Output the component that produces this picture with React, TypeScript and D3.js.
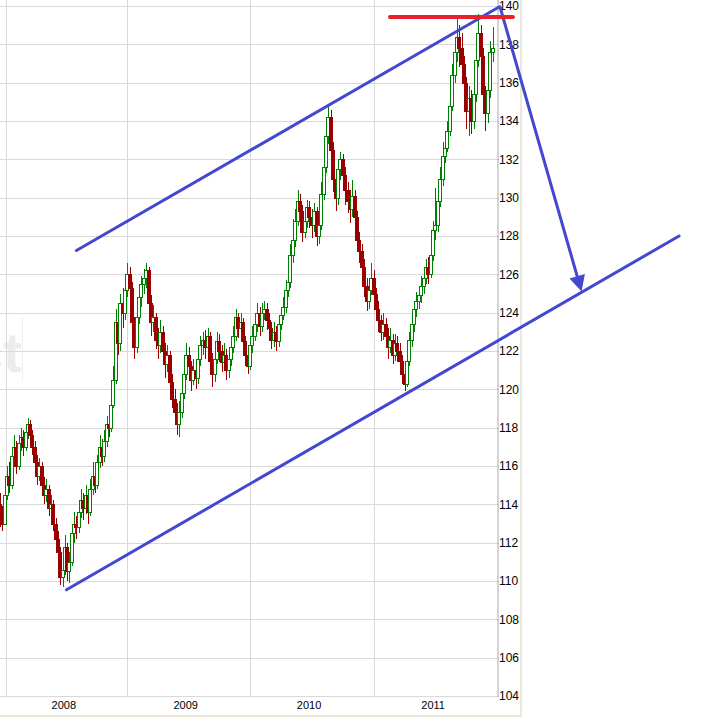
import React from 'react';
import * as d3 from 'd3';

// ---------- data ----------
const firstWeek = new Date(2007, 11, 14);
const firstOpen = 114;
const closes = [
  113.5,113,114.5,115.5,115,116.5,117,116,117.2,117.5,
  117,117.8,118.2,117.6,117,116.2,115.5,116,115,114.5,
  114.8,113.8,114,113,112.2,111.5,110.2,110.6,111.8,110.5,
  111,112.5,113,112.8,113.6,114.2,113.8,114.5,113.6,114.8,
  115.5,115,116.2,117,116.5,117.3,118.2,118,119.2,120.5,
  123.5,122.4,124.5,124,125.2,126,125.3,123.5,122.2,123.8,
  124.8,125.5,125.8,126.2,124.5,123.5,123.8,122.6,122.3,123,
  122,121.3,121.8,120.4,119.5,118.8,118.2,118.8,119.8,120.8,
  121.8,121.2,120.5,121,120.6,121.6,122.3,122.6,122.2,122.8,
  121.5,120.8,121.6,122.5,122,121.4,121.8,121,121.6,122.2,
  122.8,123.8,123.2,123.5,122.5,121.8,121.2,122.3,122.8,123.4,
  124,123.3,124,124.2,123.6,123.2,122.6,123,122.5,123.4,
  123.9,124.3,125.2,125.6,127,127.8,128.8,129.8,129.3,128.2,
  128.8,129.5,129,128.6,129.3,128,128.6,130.2,131.6,133.2,
  134.2,132.5,131,130,131.5,132,131.2,130.4,129.8,129.4,
  130.1,129,127.8,127.2,126.4,125.4,124.6,125.2,125.8,125,
  124.2,123.6,123,123.4,122.8,122.2,122.6,121.8,122.4,122,
  121.5,120.8,120.3,121.5,122.6,123.4,124.2,124.6,124.9,125.4,
  125.8,126.4,126,127,128.3,128.6,129.8,131,132.2,132.6,
  133.5,134.8,136.4,137.6,138.4,137.8,137,136,134.5,135.2,
  134,135.4,137.2,138.6,137.4,135.4,134.4,135.6,137.6,137.8,
];
const highs = [
  114.6,113.9,114.9,116,116.2,116.9,117.6,117.3,117.6,118,
  117.9,118.2,118.5,118.4,117.9,117.3,116.6,116.4,116.2,115.4,
  115.3,115,114.5,114.2,113.3,112.6,111.8,111.2,112.4,112,
  111.5,113,113.6,113.4,114,114.8,114.6,115,114.8,115.3,
  116.2,115.9,116.6,117.6,117.4,117.9,118.6,118.8,119.6,121.2,
  124.2,124,125,125.3,125.8,126.6,126.4,125.6,123.8,124.3,
  125.4,125.9,126.3,126.6,126.4,124.9,124.4,124,123.2,123.6,
  123.3,122.4,122.3,122,120.8,120,119.3,119.4,120.3,121.2,
  122.4,122.2,121.5,121.6,121.4,122.2,122.8,123,123.1,123.2,
  123,121.9,122.1,123,122.9,122.3,122.4,122.1,122.2,122.7,
  123.3,124.2,124,124,123.7,122.8,122.1,122.7,123.3,123.9,
  124.5,124.3,124.5,124.6,124.5,124,123.5,123.5,123.3,123.9,
  124.3,124.8,125.7,126.3,127.6,128.9,129.4,130.4,130.2,129.6,
  129.3,129.9,129.8,129.4,129.7,129.5,129.1,130.8,132.2,133.8,
  134.8,134.6,132.9,131.4,132,132.4,132.3,131.6,130.8,130.4,
  130.9,130.4,129.3,128.2,127.6,126.8,125.8,125.7,126.6,126.2,
  125.3,124.6,123.9,124,123.7,123.2,123.2,122.9,122.9,122.8,
  122.4,121.8,121.2,122,123,123.8,124.6,125.1,125.3,125.9,
  126.2,126.8,126.9,127.6,128.8,130.5,130.3,131.6,132.9,133.2,
  134,135.6,137,138.4,139.3,139,138.6,137.4,136.3,135.8,
  135.6,136,137.8,139.6,139,137.8,135.8,136.2,138.2,138.9,
];
const lows = [
  112.8,112.6,112.9,114.2,114.6,114.8,116.1,115.6,115.8,116.8,
  116.5,116.8,117.4,117.2,116.6,115.8,115,115.2,114.6,114,
  114.1,113.4,113.2,112.6,111.6,110.9,109.8,109.7,110.3,110,
  109.9,110.8,112,112.2,112.5,113.3,113.2,113.5,113,113.4,
  114.5,114.6,114.8,115.9,116,116.2,117,117.5,117.8,119,
  120.3,121.8,122,123.2,123.6,124.8,124.4,123,121.6,121.9,
  123.4,124.3,125,125.3,124,122.8,123,122.1,121.6,121.9,
  121.5,120.6,120.9,119.8,119,118.3,117.6,117.5,118.5,119.5,
  120.5,120.6,119.9,120.2,120,120.3,121.2,121.8,121.6,121.9,
  121,120.1,120.4,121.3,121.4,120.9,121,120.5,120.6,121.2,
  121.9,122.5,122.7,122.8,122,121.2,120.8,121,121.9,122.5,
  123,122.8,123,123.6,123.1,122.7,122.1,122.2,122,122.2,
  123.1,123.6,124,124.8,125.3,126.6,127.4,128.5,128.6,127.7,
  127.9,128.4,128.4,127.9,128.2,127.5,127.6,128.3,129.9,131.3,
  132.8,132,130.3,129.3,129.6,130.9,130.6,129.6,129.2,128.7,
  129,128.5,127.2,126.6,125.8,124.8,124.1,124.2,124.9,124.5,
  123.6,123,122.5,122.6,122.3,121.6,121.9,121.3,121.5,121.4,
  120.9,120.3,119.9,120.1,121.2,122.2,123,123.8,124.2,124.5,
  125,125.5,125.5,125.8,126.7,127.8,128.2,129.5,130.6,131.8,
  132.4,133.2,134.5,136,137.1,136.8,136.2,135.3,133.6,133.2,
  133.3,133.6,135,136.8,136.8,134.8,133.5,133.9,135.2,137.1,
];

const yTicks = d3.range(104, 141, 2);
const yearBounds = [new Date(2008, 0, 1), new Date(2009, 0, 1), new Date(2010, 0, 1), new Date(2011, 0, 1)];
const yearLabels = ['2008', '2009', '2010', '2011'];
const yearLabelDates = [new Date(2008, 5, 24), new Date(2009, 5, 24), new Date(2010, 5, 24), new Date(2011, 5, 24)];

// annotations (date, value)
const upperTrend = [{ d: new Date(2008, 7, 1), v: 127.24 }, { d: new Date(2012, 0, 4), v: 139.95 }];
const lowerTrend = [{ d: new Date(2008, 6, 2), v: 109.54 }, { d: new Date(2013, 5, 17), v: 128.0 }];
const arrowPts = [{ d: new Date(2012, 0, 7), v: 139.95 }, { d: new Date(2012, 8, 3), v: 125.1 }];
const resistance = [{ d: new Date(2011, 1, 17), v: 139.43 }, { d: new Date(2012, 1, 14), v: 139.43 }];

// ---------- layout ----------
const W = 719, H = 718;
const plotRight = 497;
const FONT = '"Liberation Sans", Arial, sans-serif';
const BLUE = '#4447cf';
const GREEN = '#008000';
const RED = '#990000';

export default function App() {
  const x = d3.scaleTime().domain(yearBounds).range([6, 127, 250, 374]);
  const y = d3.scaleLinear().domain([104, 140]).range([696, 6]);

  const candles = closes.map((c, i) => {
    const o = i === 0 ? firstOpen : closes[i - 1];
    return {
      date: d3.timeWeek.offset(firstWeek, i),
      o,
      c,
      h: Math.max(highs[i], o, c),
      l: Math.min(lows[i], o, c),
    };
  });

  const line = d3.line<{ d: Date; v: number }>().x(p => x(p.d)).y(p => y(p.v));

  // arrow geometry from scaled points
  const a0 = [x(arrowPts[0].d), y(arrowPts[0].v)];
  const a1 = [x(arrowPts[1].d), y(arrowPts[1].v)];
  const len = Math.hypot(a1[0] - a0[0], a1[1] - a0[1]);
  const ux = (a1[0] - a0[0]) / len, uy = (a1[1] - a0[1]) / len;
  const headL = 16, headW = 8;
  const base = [a1[0] - ux * headL, a1[1] - uy * headL];
  const head = [
    a1,
    [base[0] - uy * headW, base[1] + ux * headW],
    [base[0] + uy * headW, base[1] - ux * headW],
  ];

  return (
    <svg
      width={W}
      height={H}
      style={{ position: 'absolute', left: 0, top: 0, background: '#fff' }}
    >
      <defs>
        <clipPath id="plotClip">
          <rect x={0} y={0} width={plotRight} height={697} />
        </clipPath>
      </defs>

      {/* watermark (partly outside the frame, as in the source) */}
      <g>
        <text x={22} y={372} textAnchor="end" fontFamily={FONT} fontWeight="bold" fontSize={56} fill="#ececec">
          ct
        </text>
        <line x1={22.5} x2={22.5} y1={317} y2={382} stroke="#efefef" strokeWidth={1} />
      </g>

      {/* grid */}
      <g shapeRendering="crispEdges">
        {yTicks.map(t => (
          <line key={'h' + t} x1={0} x2={plotRight} y1={Math.round(y(t)) + 0.5} y2={Math.round(y(t)) + 0.5} stroke="#d9d9d9" />
        ))}
        {yearBounds.map((d, i) => (
          <line key={'v' + i} x1={Math.round(x(d)) + 0.5} x2={Math.round(x(d)) + 0.5} y1={0} y2={697} stroke="#d9d9d9" strokeWidth={1.5} />
        ))}
        <line x1={plotRight + 1} x2={plotRight + 1} y1={0} y2={697} stroke="#d4d4d4" strokeWidth={2} />
      </g>

      {/* candles */}
      <g clipPath="url(#plotClip)" shapeRendering="crispEdges">
        {candles.map((k, i) => {
          const cx = Math.round(x(k.date));
          const up = k.c >= k.o;
          const col = up ? GREEN : RED;
          const yt = Math.round(y(Math.max(k.o, k.c)));
          const yb = Math.round(y(Math.min(k.o, k.c)));
          return (
            <g key={i}>
              <line x1={cx + 0.5} x2={cx + 0.5} y1={Math.round(y(k.h))} y2={Math.round(y(k.l))} stroke={col} strokeWidth={1} />
              <rect
                x={cx - 1.5}
                y={yt + 0.5}
                width={3}
                height={Math.max(1, yb - yt)}
                fill={up ? '#fff' : RED}
                stroke={col}
                strokeWidth={1}
              />
            </g>
          );
        })}
      </g>

      {/* y axis */}
      <g fontFamily={FONT} fontSize={12} fill="#000">
        {yTicks.map(t => (
          <g key={'yl' + t}>
            <line x1={plotRight} x2={plotRight + 2} y1={Math.round(y(t)) + 0.5} y2={Math.round(y(t)) + 0.5} stroke="#bbb" />
            <text x={plotRight + 2} y={y(t)} dy="0.35em">{t}</text>
          </g>
        ))}
      </g>

      {/* x axis labels */}
      <g fontFamily={FONT} fontSize={11} fill="#000" textAnchor="middle">
        {yearLabelDates.map((d, i) => (
          <text key={'xl' + i} x={x(d)} y={709}>{yearLabels[i]}</text>
        ))}
      </g>

      {/* panel borders */}
      <line x1={521} x2={521} y1={0} y2={717} stroke="#ece9d8" strokeWidth={2} />
      <line x1={0} x2={521} y1={716} y2={716} stroke="#ece9d8" strokeWidth={2} />

      {/* annotations */}
      <path d={line(upperTrend) || ''} stroke={BLUE} strokeWidth={3} fill="none" strokeLinecap="round" />
      <path d={line(lowerTrend) || ''} stroke={BLUE} strokeWidth={3} fill="none" strokeLinecap="round" />
      <line x1={a0[0]} y1={a0[1]} x2={base[0]} y2={base[1]} stroke={BLUE} strokeWidth={3} strokeLinecap="round" />
      <polygon points={head.map(p => p.join(',')).join(' ')} fill={BLUE} />
      <path d={line(resistance) || ''} stroke="#e8222c" strokeWidth={4} fill="none" strokeLinecap="round" />
    </svg>
  );
}
